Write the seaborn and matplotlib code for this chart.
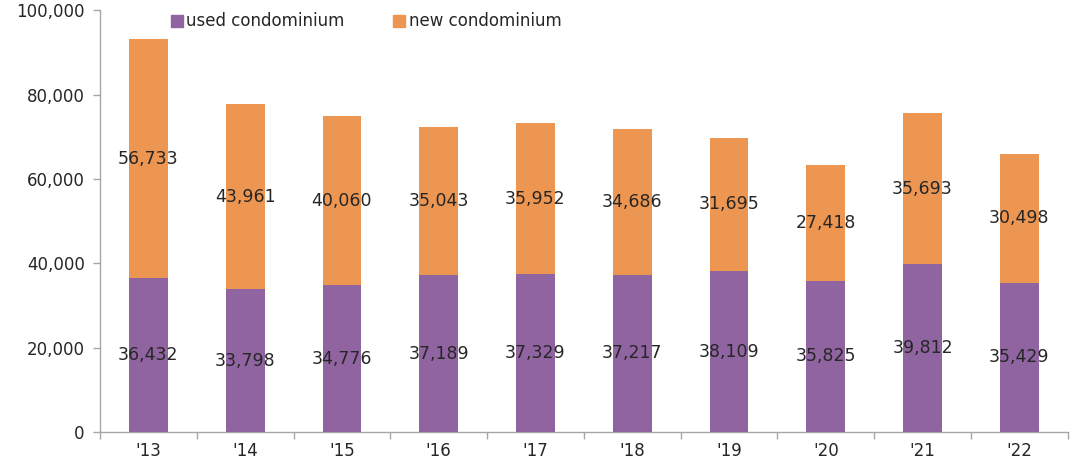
import matplotlib
matplotlib.use("Agg")
import matplotlib.pyplot as plt
import seaborn as sns
import pandas as pd
import numpy as np
from matplotlib.lines import Line2D
from matplotlib.ticker import FuncFormatter, MultipleLocator

years = ["'13", "'14", "'15", "'16", "'17", "'18", "'19", "'20", "'21", "'22"]
used = [36432, 33798, 34776, 37189, 37329, 37217, 38109, 35825, 39812, 35429]
new = [56733, 43961, 40060, 35043, 35952, 34686, 31695, 27418, 35693, 30498]

PURPLE = "#9064A0"
ORANGE = "#EC9651"
GRAY = "#A6A6A6"
TEXT = "#262626"

df = pd.DataFrame({"year": years, "used": used, "new": new})
df["total"] = df["used"] + df["new"]

sns.set_theme(style="white")
plt.rcParams["font.family"] = ["DejaVu Sans"]

fig = plt.figure(figsize=(10.8, 4.61), dpi=100)
ax = fig.add_axes([0.0926, 0.063, 0.896, 0.915])

# stacked bars: total (new on top) first, then used over it
sns.barplot(data=df, x="year", y="total", color=ORANGE, width=0.4,
            saturation=1, ax=ax, zorder=2, edgecolor="none", linewidth=0)
sns.barplot(data=df, x="year", y="used", color=PURPLE, width=0.4,
            saturation=1, ax=ax, zorder=3, edgecolor="none", linewidth=0)

for i, (u, n) in enumerate(zip(used, new)):
    ax.text(i, u / 2, f"{u:,}", ha="center", va="center", fontsize=12.5,
            color=TEXT, zorder=4)
    ax.text(i, u + n / 2, f"{n:,}", ha="center", va="center", fontsize=12.5,
            color=TEXT, zorder=4)

ax.set_xlim(-0.5, len(years) - 0.5)
ax.set_ylim(0, 100000)
ax.yaxis.set_major_locator(MultipleLocator(20000))
ax.yaxis.set_major_formatter(FuncFormatter(lambda v, p: f"{int(v):,}"))
ax.set_xlabel("")
ax.set_ylabel("")

for side in ["top", "right"]:
    ax.spines[side].set_visible(False)
for side in ["left", "bottom"]:
    ax.spines[side].set_color(GRAY)
    ax.spines[side].set_linewidth(1)

# x tick marks sit between the categories
ax.set_xticks(np.arange(len(years)))
ax.set_xticklabels(years)
ax.set_xticks(np.arange(len(years) + 1) - 0.5, minor=True)
ax.tick_params(axis="x", which="major", length=0, labelsize=12,
               labelcolor=TEXT, pad=7)
ax.tick_params(axis="x", which="minor", length=5, color=GRAY, width=1,
               direction="out", bottom=True)
ax.tick_params(axis="y", length=5, color=GRAY, width=1, direction="out",
               left=True, labelsize=12, labelcolor=TEXT, pad=6)

handles = [
    Line2D([], [], marker="s", linestyle="", markersize=8,
           markerfacecolor=PURPLE, markeredgecolor=PURPLE,
           label="used condominium"),
    Line2D([], [], marker="s", linestyle="", markersize=8,
           markerfacecolor=ORANGE, markeredgecolor=ORANGE,
           label="new condominium"),
]
ax.legend(handles=handles, loc="upper left", bbox_to_anchor=(0.057, 1.03),
          ncol=2, frameon=False, fontsize=12, handletextpad=0.15,
          columnspacing=2.9, handlelength=0.8)

fig.savefig("out.png", dpi=100)
